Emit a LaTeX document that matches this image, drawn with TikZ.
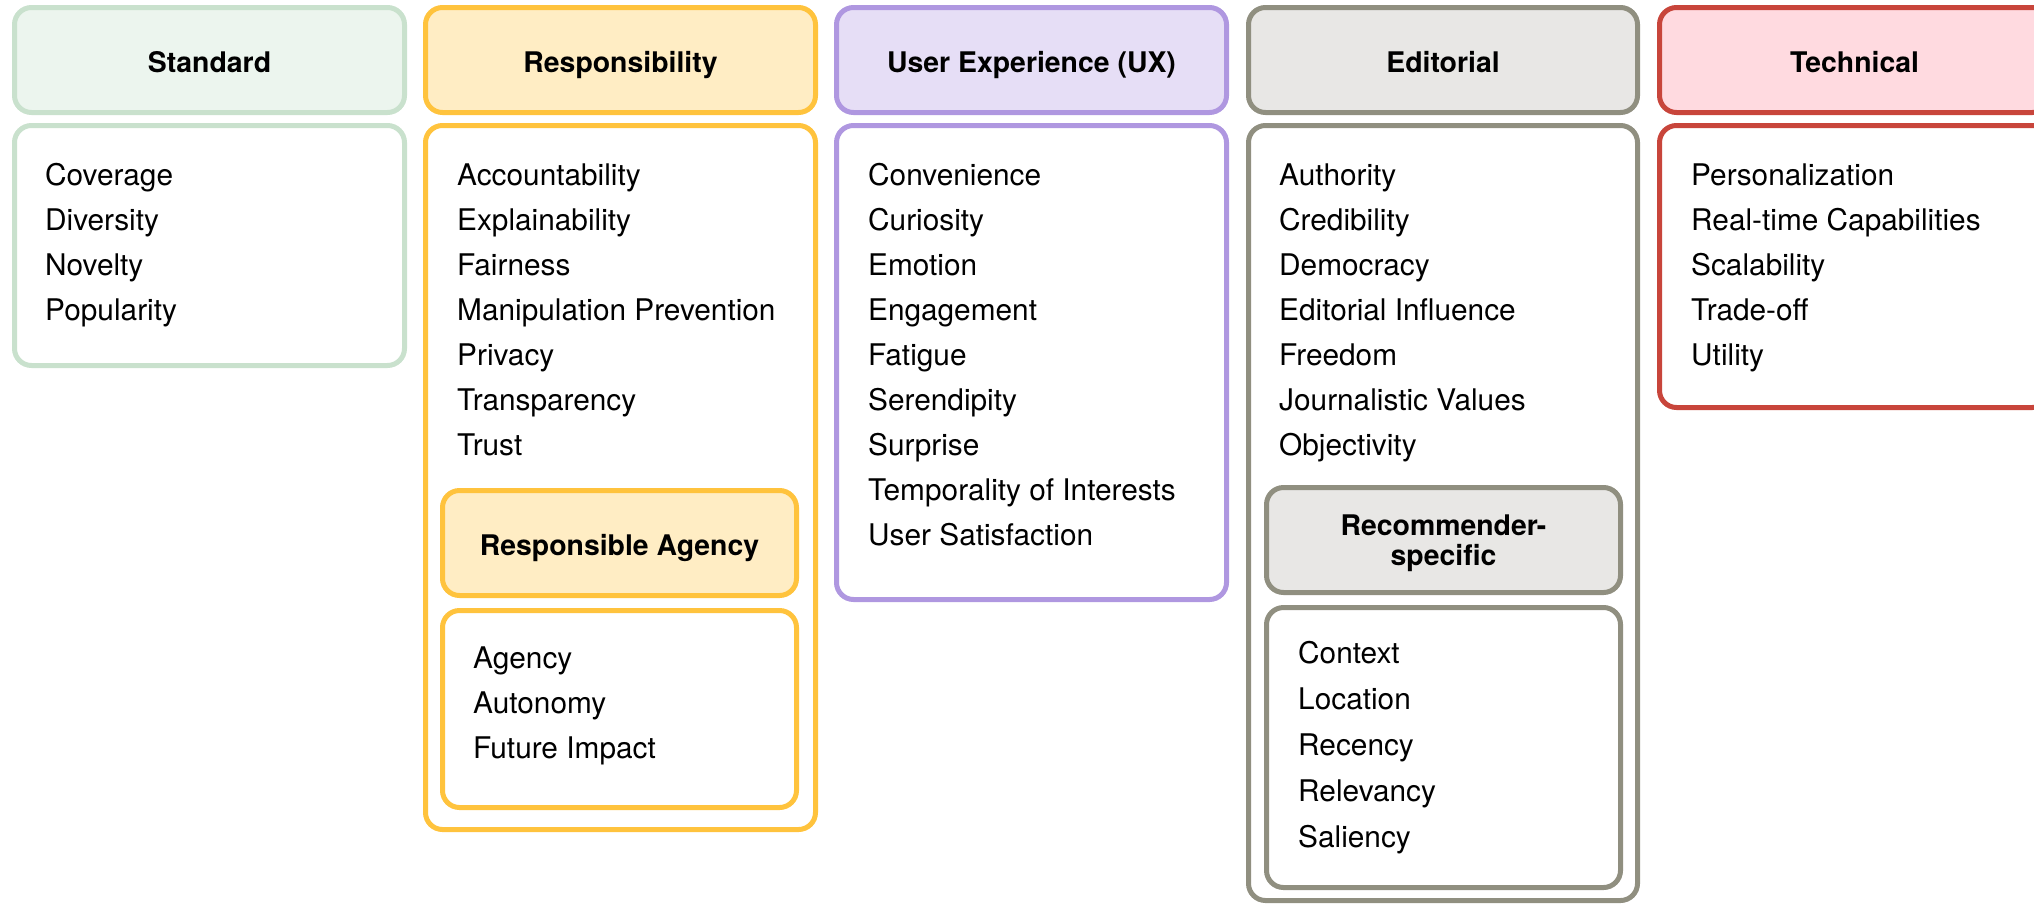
\documentclass[tikz,border=0pt]{standalone}
\usepackage{fontspec}
\setmainfont{TeX Gyre Heros}
\definecolor{stdS}{HTML}{C9E1CD}\definecolor{stdF}{HTML}{ECF5EE}
\definecolor{resS}{HTML}{FFC33D}\definecolor{resF}{HTML}{FFEDC4}
\definecolor{uxS}{HTML}{AF97E0}\definecolor{uxF}{HTML}{E6DEF6}
\definecolor{edS}{HTML}{908F80}\definecolor{edF}{HTML}{E8E7E5}
\definecolor{teS}{HTML}{C8453B}\definecolor{teF}{HTML}{FFDAE0}
\tikzset{
  box/.style={draw, line width=5pt, rounded corners=17pt, inner sep=0pt, outer sep=0pt, anchor=north west},
  hdr/.style={font=\fontsize{28.4}{30}\selectfont\bfseries, anchor=base, inner sep=0pt},
  itm/.style={font=\fontsize{29.8}{36}\selectfont, anchor=base west, inner sep=0pt},
}
\newcommand\mybox[7]{\node[box, draw=#6, fill=#7, minimum width=#4pt, minimum height=#5pt] (#1) at (#2,#3) {};}
\newcommand\mylist[5]{\foreach \t [count=\i] in {#5} {\node[itm] (#1-\i) at (#2,{#3+#4*(\i-1)}) {\t};}}
\begin{document}
\begin{tikzpicture}[x=1pt,y=-1pt]
\useasboundingbox (0,0) rectangle (2034,903);
\clip (0,0) rectangle (2034,903);
% Standard
\mybox{stdH}{14.5}{7.5}{390}{105}{stdS}{stdF}
\mybox{stdB}{14.5}{125.5}{390}{240}{stdS}{white}
\node[hdr] (stdT) at (209.5,72) {Standard};
\mylist{std}{45}{185}{45}{Coverage,Diversity,Novelty,Popularity}
% Responsibility
\mybox{resH}{425.5}{7.5}{390}{105}{resS}{resF}
\mybox{resB}{425.5}{125.5}{390}{704}{resS}{white}
\node[hdr] (resT) at (620.5,72) {Responsibility};
\mylist{res}{457}{185}{45}{Accountability,Explainability,Fairness,Manipulation Prevention,Privacy,Transparency,Trust}
\mybox{raH}{442.5}{490.5}{354}{105}{resS}{resF}
\mybox{raB}{442.5}{610.5}{354}{197}{resS}{white}
\node[hdr] (raT) at (619.5,555) {Responsible Agency};
\mylist{ra}{473}{668}{45}{Agency,Autonomy,Future Impact}
% UX
\mybox{uxH}{836.5}{7.5}{390}{105}{uxS}{uxF}
\mybox{uxB}{836.5}{125.5}{390}{474}{uxS}{white}
\node[hdr] (uxT) at (1031.5,72) {User Experience (UX)};
\mylist{ux}{868}{185}{45}{Convenience,Curiosity,Emotion,Engagement,Fatigue,Serendipity,Surprise,Temporality of Interests,User Satisfaction}
% Editorial
\mybox{edH}{1248.5}{7.5}{389}{105}{edS}{edF}
\mybox{edB}{1248.5}{125.5}{389}{775}{edS}{white}
\node[hdr] (edT) at (1443,72) {Editorial};
\mylist{ed}{1279}{185}{45}{Authority,Credibility,Democracy,Editorial Influence,Freedom,Journalistic Values,Objectivity}
\mybox{rsH}{1266.5}{487.5}{354}{105}{edS}{edF}
\mybox{rsB}{1266.5}{607.5}{354}{280}{edS}{white}
\node[hdr, anchor=center, align=center] (rsT) at (1443.5,543) {Recommender-\\specific};
\mylist{rs}{1298}{663}{46}{Context,Location,Recency,Relevancy,Saliency}
% Technical
\mybox{teH}{1659.5}{7.5}{390}{105}{teS}{teF}
\mybox{teB}{1659.5}{125.5}{390}{282}{teS}{white}
\node[hdr] (teT) at (1854.5,72) {Technical};
\mylist{te}{1691}{185}{45}{Personalization,Real-time Capabilities,Scalability,Trade-off,Utility}
\end{tikzpicture}
\end{document}
